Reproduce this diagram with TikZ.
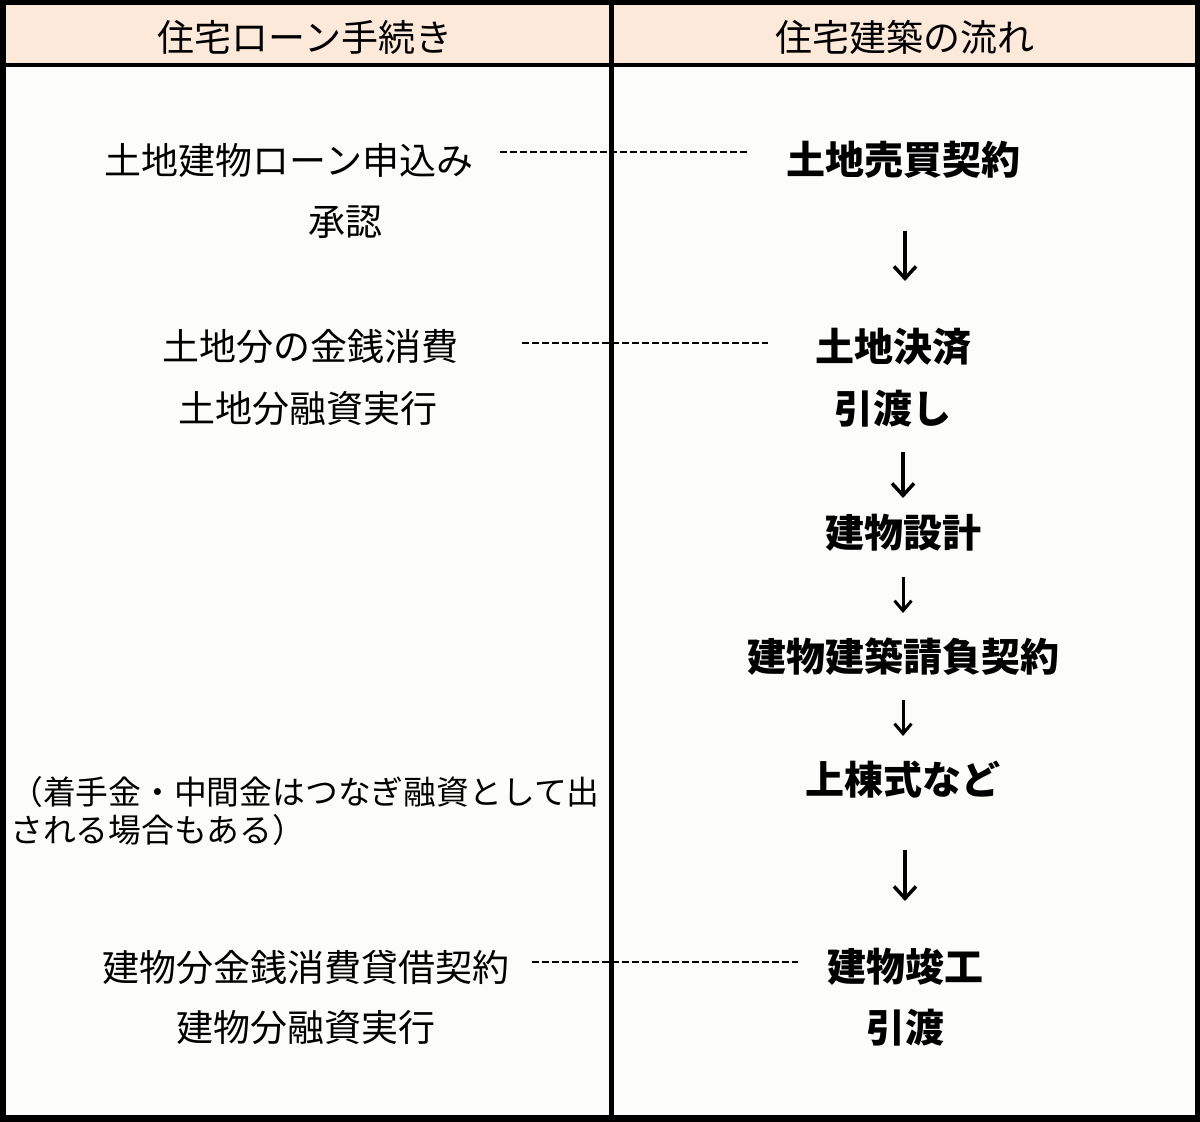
\documentclass[tikz,border=0pt]{standalone}
\usepackage{fontspec}
\setmainfont{Noto Sans CJK JP}
\usetikzlibrary{arrows.meta}
\definecolor{headfill}{RGB}{253,233,217}
\definecolor{bodyfill}{RGB}{252,253,250}
\begin{document}
\begin{tikzpicture}[x=1pt,y=-1pt,
  plain/.style={inner sep=0pt,font=\fontsize{37}{40}\selectfont},
  note/.style={inner sep=0pt,font=\fontsize{32.8}{38}\selectfont,anchor=west},
  flow/.style={inner sep=0pt,font=\fontsize{39}{42}\selectfont\bfseries},
  tie/.style={line width=2pt,dash pattern=on 7pt off 3pt},
  down/.style={line width=3.5pt,-{Straight Barb[length=12pt,width=22pt,line width=3.5pt]}},
  downs/.style={line width=3pt,-{Straight Barb[length=10pt,width=17pt,line width=3pt]}}]
\useasboundingbox (0,0) rectangle (1200,1122);
\fill[black] (0,0) rectangle (1200,1122);
\fill[headfill] (6,5) rectangle (609,63);
\fill[headfill] (614,5) rectangle (1195,63);
\fill[bodyfill] (6,67) rectangle (609,1115);
\fill[bodyfill] (614,67) rectangle (1195,1115);
% headers
\node[plain] (h1) at (305,37) {住宅ローン手続き};
\node[plain] (h2) at (905,37) {住宅建築の流れ};
% left column
\node[plain] (l1) at (289,160) {土地建物ローン申込み};
\node[plain] (l2) at (345,222) {承認};
\node[plain] (l3) at (310,347) {土地分の金銭消費};
\node[plain] (l4) at (308,409) {土地分融資実行};
\node[note] (l5) at (10,792) {（着手金・中間金はつなぎ融資として出};
\node[note] (l6) at (10,830) {される場合もある）};
\node[plain] (l7) at (306,967) {建物分金銭消費貸借契約};
\node[plain] (l8) at (306,1028) {建物分融資実行};
% right column
\node[flow] (r1) at (903,160) {土地売買契約};
\node[flow] (r2) at (893,347) {土地決済};
\node[flow] (r3) at (893,409) {引渡し};
\node[flow] (r4) at (903,533) {建物設計};
\node[flow] (r5) at (903,657) {建物建築請負契約};
\node[flow] (r6) at (903,780) {上棟式など};
\node[flow] (r7) at (905,967) {建物竣工};
\node[flow] (r8) at (905,1028) {引渡};
% dashed ties
\coordinate (d1a) at (500,152); \coordinate (d1b) at (748,152);
\coordinate (d2a) at (522,343); \coordinate (d2b) at (768,343);
\coordinate (d3a) at (532,962); \coordinate (d3b) at (798,962);
\draw[tie] (d1a) -- (d1b);
\draw[tie] (d2a) -- (d2b);
\draw[tie] (d3a) -- (d3b);
% arrows
\coordinate (a1a) at (905,231); \coordinate (a1b) at (905,281);
\coordinate (a2a) at (903,452); \coordinate (a2b) at (903,498);
\coordinate (a3a) at (903,577); \coordinate (a3b) at (903,613);
\coordinate (a4a) at (903,700); \coordinate (a4b) at (903,736);
\coordinate (a5a) at (905,850); \coordinate (a5b) at (905,901);
\draw[down] (a1a) -- (a1b);
\draw[down] (a2a) -- (a2b);
\draw[downs] (a3a) -- (a3b);
\draw[downs] (a4a) -- (a4b);
\draw[down] (a5a) -- (a5b);
\end{tikzpicture}
\end{document}
